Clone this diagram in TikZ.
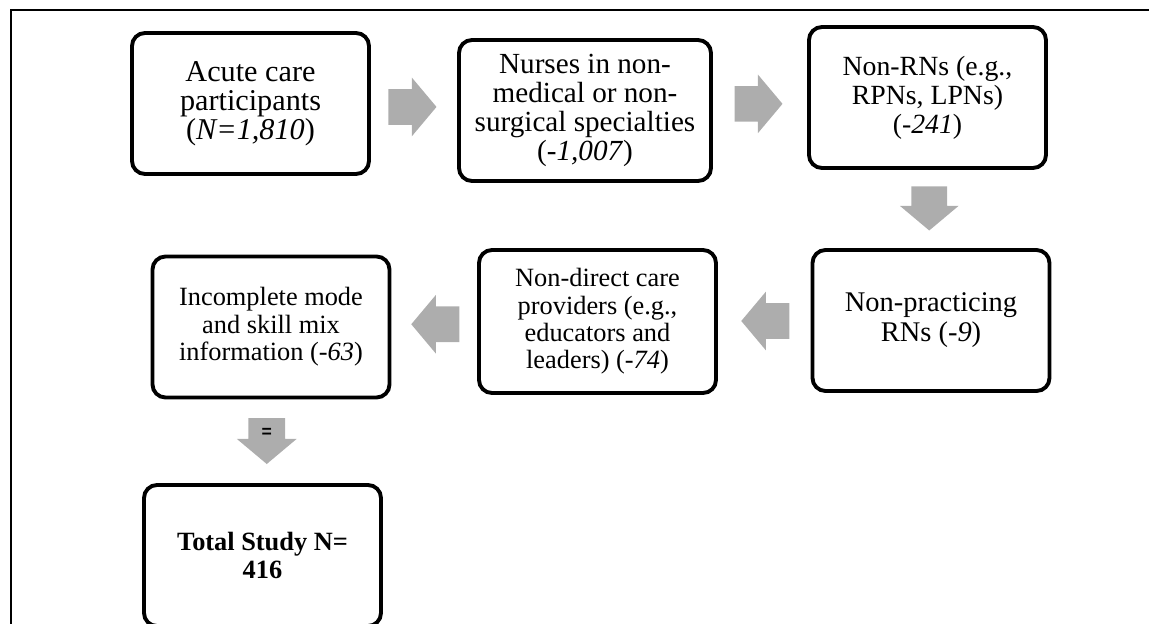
\documentclass[tikz,border=0pt]{standalone}
\usepackage{fontspec}
\setmainfont{Liberation Serif}
\setsansfont{Liberation Sans}
\usetikzlibrary{shapes.arrows}
\definecolor{arrowgray}{RGB}{173,173,173}

\begin{document}
\begin{tikzpicture}[
  box/.style={draw, line width=2.2pt, rounded corners=0.26cm, align=center,
    minimum width=4.74cm, minimum height=2.82cm, inner sep=0pt,
    font=\fontsize{16.6}{16.4}\selectfont},
  smalltext/.style={font=\fontsize{15}{15.6}\selectfont},
  blockarrow/.style={single arrow, fill=arrowgray, inner xsep=0pt, inner ysep=0.35cm,
    minimum height=0.96cm, minimum width=1.16cm,
    single arrow head extend=0.23cm, single arrow tip angle=100},
  rightarrow/.style={blockarrow, xshift=-0.18cm},
  leftarrow/.style={blockarrow, shape border rotate=180, xshift=0.17cm},
  downarrow/.style={blockarrow, shape border rotate=270, inner xsep=0.35cm, inner ysep=0pt,
    yshift=0.16cm}]
  \useasboundingbox (0,0) rectangle (22.98,-12.48);
  \draw[line width=0.6pt] (0.22,-12.6) -- (0.22,-0.2) -- (23.1,-0.2);

  \node[box, font=\fontsize{17.2}{16.6}\selectfont] (acute) at (5.01,-2.07)
    {Acute care\\participants\\(\textit{N=1,810})};
  \node[box, minimum width=5.04cm] (nurses) at (11.70,-2.21)
    {Nurses in non-\\medical or non-\\surgical specialties\\(\textit{-1,007})};
  \node[box, font=\fontsize{15.8}{16.6}\selectfont] (nonrn) at (18.55,-1.95)
    {Non-RNs (e.g.,\\RPNs, LPNs)\\(\textit{-241})};
  \node[box, font=\fontsize{16.2}{17}\selectfont] (nonprac) at (18.62,-6.41)
    {Non-practicing\\RNs (\textit{-9})};
  \node[box, smalltext, minimum height=2.86cm] (nondirect) at (11.95,-6.43)
    {Non-direct care\\providers (e.g.,\\educators and\\leaders) (\textit{-74})};
  \node[box, smalltext] (incomplete) at (5.42,-6.54)
    {Incomplete mode\\and skill mix\\information (\textit{-63})};
  \node[box, smalltext] (total) at (5.25,-11.11) {\bfseries Total Study N=\\\bfseries 416};

  \path (acute) -- node[rightarrow] {} (nurses);
  \path (nurses) -- node[rightarrow] {} (nonrn);
  \path (nonrn) -- node[downarrow, minimum height=0.88cm] {} (nonprac);
  \path (nonprac) -- node[leftarrow] {} (nondirect);
  \path (nondirect) -- node[leftarrow] {} (incomplete);
  \path (incomplete) -- node[downarrow, minimum height=0.92cm, inner xsep=0.26cm,
    font=\sffamily\bfseries\fontsize{10}{10}\selectfont] {=} (total);
\end{tikzpicture}
\end{document}
